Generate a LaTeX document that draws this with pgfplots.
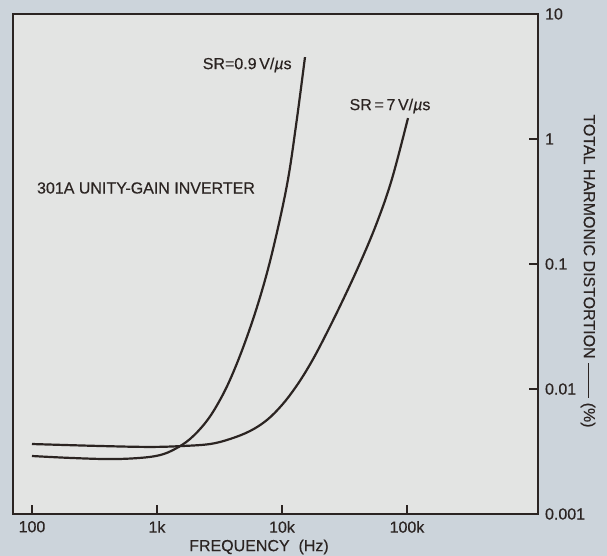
\documentclass[border=0pt]{standalone}
\usepackage{fontspec}
\setmainfont{Liberation Sans}[FakeBold=0.35]
\usepackage{pgfplots}
\pgfplotsset{compat=1.18}
\definecolor{ink}{HTML}{2B2422}
\definecolor{paper}{HTML}{E3E4E3}
\definecolor{margin}{HTML}{CCD4DB}
\begin{document}
\begin{tikzpicture}[x=1pt,y=1pt]
\fill[margin] (-6.5,-21) rectangle (297,257);
\useasboundingbox (-6.5,-21) rectangle (297,257);
\begin{axis}[
  at={(0,0)}, anchor=south west, scale only axis,
  width=262.5pt, height=250pt,
  xmode=log, ymode=log,
  xmin=70.5, xmax=1.117e6, ymin=0.001, ymax=10,
  axis background/.style={fill=paper},
  axis line style={ink, line width=1pt},
  xtick={100,1000,10000,100000}, xticklabels={100,1k,10k,100k},
  ytick={0.001,0.01,0.1,1,10}, yticklabels={0.001,0.01,0.1,1,10},
  xtick pos=bottom, ytick pos=right, yticklabel pos=right,
  tick align=inside, major tick length=4.5pt,
  xminorticks=false, yminorticks=false,
  tick style={ink, line width=1pt},
  ticklabel style={font=\fontsize{8}{9.6}\selectfont, text=ink},
  /pgf/number format/assume math mode=true,
  clip=false,
]
% SR = 0.9 V/us
\addplot[ink, line width=1.1pt, smooth, tension=0.6] table {
100     0.00291
201     0.00281
421     0.00275
731     0.00281
1057    0.00296
1393    0.00331
1837    0.00398
2421    0.00532
3020    0.00741
3837    0.01183
5058    0.0236
6668    0.0541
8472    0.1312
10965   0.4295
12942   1.28
15276   4.52
};
% SR = 7 V/us
\addplot[ink, line width=1.1pt, smooth, tension=0.6] table {
100     0.00363
350     0.0035
879     0.00344
1614    0.0035
2655    0.00363
3837    0.00398
5546    0.00461
7586    0.00565
10000   0.00745
12706   0.01016
15849   0.0143
20137   0.0220
29107   0.0460
42073   0.1016
57544   0.215
75858   0.48
101859  1.47
};
\end{axis}
\begin{scope}[every node/.style={inner sep=0pt, text=ink, font=\fontsize{8}{9.6}\selectfont}]
\node at (66.5,163) {301A UNITY-GAIN INVERTER};
\node[anchor=east] at (139.5,224.5) {SR=0.9\,V/\textit{µ}s};
\node at (188.5,204) {SR\,=\,7\,V/\textit{µ}s};
\node[rotate=-90] at (287.5,121.5) {TOTAL HARMONIC DISTORTION \rule[0.5ex]{2.2em}{0.6pt} (\%)};
\node at (123,-16.5) {FREQUENCY\ \ (Hz)};
\end{scope}
\end{tikzpicture}
\end{document}
